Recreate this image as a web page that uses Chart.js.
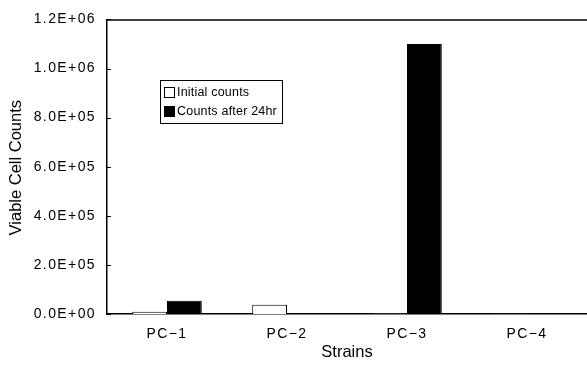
<!DOCTYPE html>
<html>
<head>
<meta charset="utf-8">
<script src="https://cdn.jsdelivr.net/npm/chart.js@4/dist/chart.umd.min.js"></script>
<style>
html,body{margin:0;padding:0;background:#fff;}
#wrap{width:587px;height:372px;position:relative;}
</style>
</head>
<body>
<div id="wrap"><canvas id="c" width="587" height="372"></canvas></div>
<script>
const categories = ["PC\u22121", "PC\u22122", "PC\u22123", "PC\u22124"];
const initialCounts = [9000, 38000, 2000, 1500];
const countsAfter24hr = [54000, 3000, 1100000, 4000];
const seriesLabels = ["Initial counts", "Counts after 24hr"];
const yTickValues = [0, 200000, 400000, 600000, 800000, 1000000, 1200000];
const xTitle = "Strains";
const yTitle = "Viable Cell Counts";

function fmtE(v){
  const s = Number(v).toExponential(1);
  const m = s.match(/^(-?[\d.]+)e([+-])(\d+)$/);
  if(!m) return s;
  return m[1] + 'E' + m[2] + m[3].padStart(2,'0');
}

const FONT = "'Liberation Sans', Arial, Helvetica, sans-serif";
const SPACING = '1.4px';

const spacingPlugin = {
  id: 'spacing',
  beforeInit(chart){ chart.ctx.letterSpacing = SPACING; },
  beforeUpdate(chart){ chart.ctx.letterSpacing = SPACING; },
  beforeDraw(chart){ chart.ctx.letterSpacing = SPACING; }
};

const framePlugin = {
  id: 'frame',
  afterDraw(chart){
    const {ctx, chartArea:a, scales:{y}} = chart;
    ctx.save();
    ctx.strokeStyle = '#000';
    ctx.lineWidth = 1.5;
    ctx.beginPath();
    ctx.moveTo(a.left, a.top + 0.5);
    ctx.lineTo(a.right, a.top + 0.5);
    ctx.stroke();
    ctx.lineWidth = 1;
    yTickValues.forEach(v=>{
      const py = Math.round(y.getPixelForValue(v)) + 0.5;
      ctx.beginPath();
      ctx.moveTo(a.left, py);
      ctx.lineTo(a.left + 4, py);
      ctx.stroke();
    });
    // axis titles
    ctx.letterSpacing = '0px';
    ctx.fillStyle = '#000';
    ctx.font = "16.5px " + FONT;
    ctx.textAlign = 'center';
    ctx.textBaseline = 'middle';
    ctx.fillText(xTitle, (a.left + a.right) / 2, 352);
    ctx.save();
    ctx.translate(16, (a.top + a.bottom) / 2 + 1);
    ctx.rotate(-Math.PI / 2);
    ctx.fillText(yTitle, 0, 0);
    ctx.restore();
    // legend box
    const lx = 160, ly = 80, lw = 122, lh = 43;
    ctx.fillStyle = '#fff';
    ctx.fillRect(lx, ly, lw, lh);
    ctx.strokeStyle = '#000';
    ctx.lineWidth = 1;
    ctx.strokeRect(lx + 0.5, ly + 0.5, lw, lh);
    ctx.font = "12.5px " + FONT;
    ctx.letterSpacing = '0.2px';
    ctx.textBaseline = 'middle';
    ctx.textAlign = 'left';
    chart.data.datasets.forEach((ds, i)=>{
      const cy = ly + 12 + i * 19;
      const sx = lx + 4;
      ctx.fillStyle = ds.backgroundColor;
      ctx.fillRect(sx, cy - 5, 10, 10);
      ctx.strokeStyle = '#000';
      ctx.strokeRect(sx + 0.5, cy - 5 + 0.5, 10, 10);
      ctx.fillStyle = '#000';
      ctx.fillText(ds.label, sx + 13, cy + 1);
    });
    ctx.restore();
  }
};

new Chart(document.getElementById('c'), {
  type: 'bar',
  data: {
    labels: categories,
    datasets: [
      {label: seriesLabels[0], data: initialCounts, backgroundColor: '#ffffff', borderColor: '#000', borderWidth: 1},
      {label: seriesLabels[1], data: countsAfter24hr, backgroundColor: '#000000', borderColor: '#000', borderWidth: 1}
    ]
  },
  options: {
    responsive: false,
    animation: false,
    devicePixelRatio: 1,
    layout: {padding: {left: 0, top: 15, right: 0, bottom: 0}},
    datasets: {bar: {barPercentage: 1, categoryPercentage: 0.58}},
    plugins: {legend: {display: false}, tooltip: {enabled: false}},
    scales: {
      x: {
        afterFit(scale){ scale.height = 58; },
        grid: {display: false, drawTicks: false},
        border: {display: true, color: '#000', width: 1.5},
        ticks: {color: '#000', font: {family: FONT, size: 14}, padding: 12}
      },
      y: {
        min: 0, max: 1200000,
        afterBuildTicks(scale){ scale.ticks = yTickValues.map(v=>({value:v})); },
        afterFit(scale){ scale.width = 107; },
        grid: {display: false, drawTicks: false},
        border: {display: true, color: '#000', width: 1.5},
        ticks: {color: '#000', font: {family: FONT, size: 14}, padding: 11, callback: v => fmtE(v)}
      }
    }
  },
  plugins: [spacingPlugin, framePlugin]
});
</script>
</body>
</html>
